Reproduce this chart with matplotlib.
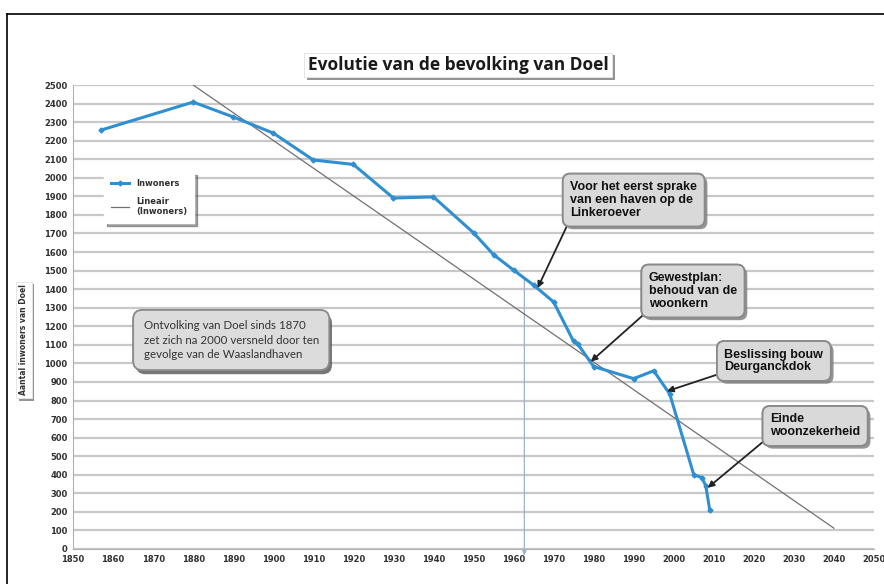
import numpy as np
import matplotlib.pyplot as plt
import matplotlib.patheffects as pe
from matplotlib.lines import Line2D

# Gegevens
jaren = [1857, 1880, 1890, 1900, 1910, 1920, 1930, 1940, 1950, 1955, 1960, 1965,
         1970, 1975, 1976, 1980, 1990, 1995, 1999, 2005, 2007, 2008, 2009]
inwoners = [2257, 2408, 2328, 2241, 2096, 2072, 1891, 1897, 1704, 1586, 1503, 1422,
            1331, 1118, 1105, 983, 918, 960, 835, 400, 385, 340, 208]
trend_jaren = [1880, 2040]
trend_waarden = [2500, 112]
x_ticks = list(range(1850, 2051, 10))
y_ticks = list(range(0, 2501, 100))
markeer_jaar = 1962.7

titel = "Evolutie van de bevolking van Doel"
y_label = "Aantal inwoners van Doel"

fig = plt.figure(figsize=(8.84, 5.84), dpi=100)
ax = fig.add_axes([73 / 884, 35 / 584, 801 / 884, 464 / 584])

blauw = '#2f8fd0'
ax.plot(jaren, inwoners, color=blauw, lw=2.2, marker='D', ms=2.5, label='Inwoners', zorder=4)
ax.plot(trend_jaren, trend_waarden, color='#707070', lw=0.9, label='Lineair\n(Inwoners)', zorder=3)

ax.set_xlim(1850, 2050)
ax.set_ylim(0, 2500)
ax.set_xticks(x_ticks)
ax.set_yticks(y_ticks)
ax.tick_params(labelsize=6, length=0, pad=4)
for t in ax.get_xticklabels() + ax.get_yticklabels():
    t.set_fontweight('bold')
    t.set_color('#303030')
ax.yaxis.grid(True, color='#c8c8c8', lw=1.6)
ax.set_axisbelow(True)
for s in ['top', 'right']:
    ax.spines[s].set_visible(False)
for s in ['left', 'bottom']:
    ax.spines[s].set_color('#b0b0b0')

schaduw = [pe.withSimplePatchShadow(offset=(2, -2), shadow_rgbFace='#7a7a7a', alpha=0.8), pe.Normal()]

# Verticale lijn
y_start = np.interp(markeer_jaar, jaren, inwoners)
ax.annotate('', xy=(markeer_jaar, -35), xytext=(markeer_jaar, y_start),
            arrowprops=dict(arrowstyle='-|>', color='#9fb3cc', lw=0.9, mutation_scale=6,
                            shrinkA=0, shrinkB=0),
            annotation_clip=False, zorder=2)

# Legende
leg = ax.legend(loc='upper left', bbox_to_anchor=(0.034, 0.82), fontsize=6,
                frameon=True, fancybox=False, shadow=True, borderpad=0.8,
                handlelength=2.2, labelspacing=1.0, edgecolor='white', framealpha=1)
for t in leg.get_texts():
    t.set_fontweight('bold')
    t.set_color('#303030')

# Titel
tt = fig.text(458 / 884, 1 - 65 / 584, titel, ha='center', va='center', fontsize=12.5,
              fontweight='bold', family='Open Sans', color='#1a1a1a',
              bbox=dict(boxstyle='square,pad=0.2', fc='white', ec='#e0e0e0', lw=0.5))
tt.get_bbox_patch().set_path_effects(schaduw)

# As-label
yl = fig.text(24 / 884, 1 - 340 / 584, y_label, rotation=90, ha='center', va='center',
              fontsize=5.5, fontweight='bold', color='#303030',
              bbox=dict(boxstyle='square,pad=0.4', fc='white', ec='#e0e0e0', lw=0.5))
yl.get_bbox_patch().set_path_effects(schaduw)

# Toelichtingen
kader = dict(boxstyle='round,pad=0.6,rounding_size=0.6', fc='#d9d9d9', ec='#8a8a8a', lw=1.3)
pijl = dict(arrowstyle='-|>', color='#222222', lw=1.3, mutation_scale=9, shrinkA=0, shrinkB=0)

callouts = [
    ("Voor het eerst sprake\nvan een haven op de\nLinkeroever", (1966, 1406), (1990, 1880), (0.0, 0.0)),
    ("Gewestplan:\nbehoud van de\nwoonkern", (1979.3, 1010), (2004.8, 1390), (0.0, 0.0)),
    ("Beslissing bouw\nDeurganckdok", (1998.3, 850), (2025, 1013), (0.0, 0.05)),
    ("Einde\nwoonzekerheid", (2008.5, 330), (2035.3, 663), (0.0, 0.1)),
]
for tekst, punt, pos, rel in callouts:
    a = ax.annotate(tekst, xy=punt, xytext=pos, ha='center', va='center',
                    multialignment='left', fontsize=9, linespacing=1.1, fontweight='bold',
                    family='Liberation Sans', color='#111111', bbox=kader,
                    arrowprops=dict(pijl, relpos=rel), zorder=6)
    a.get_bbox_patch().set_path_effects(schaduw)

lb = ax.text(1889.5, 1126, "Ontvolking van Doel sinds 1870\nzet zich na 2000 versneld door ten\ngevolge van de Waaslandhaven",
             ha='center', va='center', multialignment='left', fontsize=8.3, linespacing=1.35,
             family='Lato', color='#333333',
             bbox=dict(boxstyle='round,pad=0.9,rounding_size=0.8', fc='#dcdcdc',
                       ec='#8a8a8a', lw=1.2), zorder=6)
lb.get_bbox_patch().set_path_effects([pe.withSimplePatchShadow(offset=(2, -3), shadow_rgbFace='#555555', alpha=0.8), pe.Normal()])

# Rand
fig.add_artist(Line2D([7 / 884, 1.0], [1 - 14 / 584] * 2, color='black', lw=1.2, transform=fig.transFigure))
fig.add_artist(Line2D([7 / 884] * 2, [0.0, 1 - 14 / 584], color='black', lw=1.2, transform=fig.transFigure))

fig.savefig('out.png', dpi=100)
